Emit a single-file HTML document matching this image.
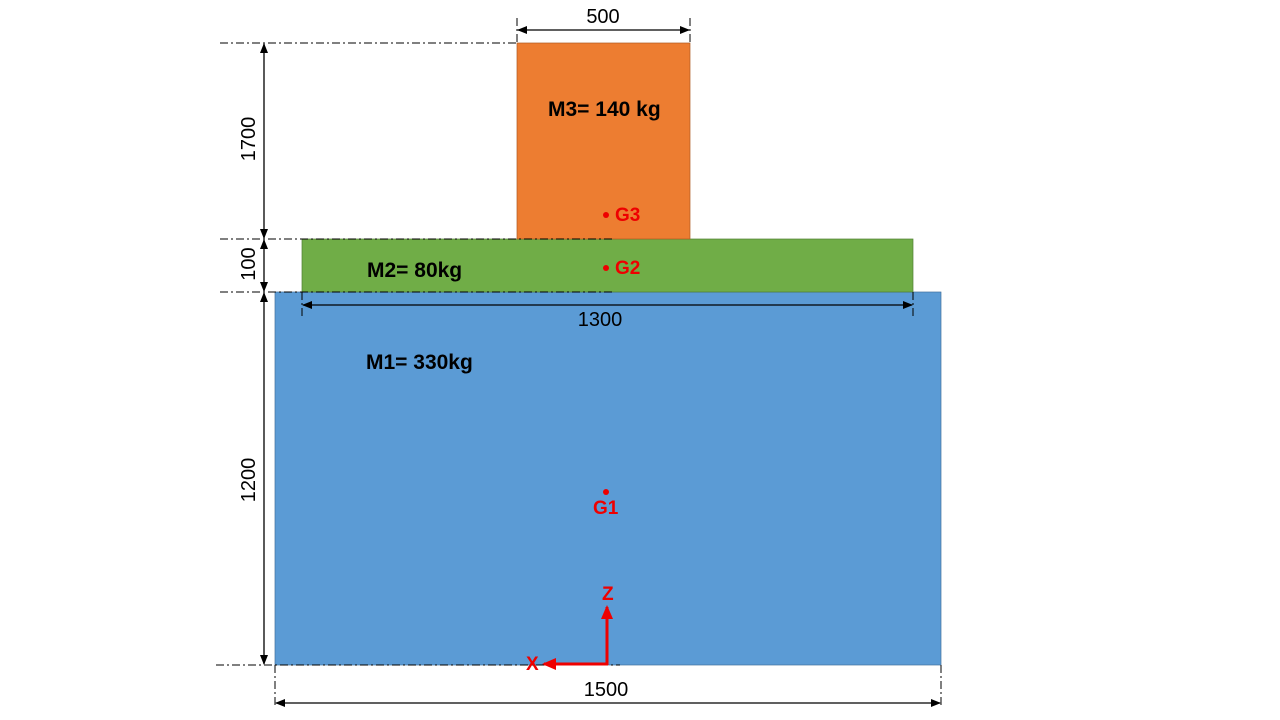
<!DOCTYPE html>
<html><head><meta charset="utf-8"><style>
html,body{margin:0;padding:0;background:#fff;width:1280px;height:720px;overflow:hidden}
svg{display:block;font-family:"Liberation Sans",sans-serif}
</style></head><body>
<svg width="1280" height="720" viewBox="0 0 1280 720">
<defs>
<marker id="ah" markerWidth="10" markerHeight="8" refX="9" refY="4" orient="auto-start-reverse" markerUnits="userSpaceOnUse"><path d="M0,0 L10,4 L0,8 Z" fill="#000"/></marker>
<marker id="rh" markerWidth="14" markerHeight="12" refX="12" refY="6" orient="auto" markerUnits="userSpaceOnUse"><path d="M0,0 L14,6 L0,12 Z" fill="#e00"/></marker>
</defs>
<rect x="275" y="292" width="666" height="373" fill="#5B9BD5" stroke="#41719C" stroke-width="0.7"/>
<rect x="302" y="239" width="611" height="53" fill="#70AD47" stroke="#507E32" stroke-width="0.7"/>
<rect x="517" y="43" width="173" height="196" fill="#ED7D31" stroke="#AE5A21" stroke-width="0.7"/>
<g stroke="#000" stroke-width="1" stroke-dasharray="8,3,2,3" fill="none">
<line x1="220" y1="43" x2="517" y2="43"/>
<line x1="220" y1="239" x2="613" y2="239"/>
<line x1="220" y1="292" x2="613" y2="292"/>
<line x1="216" y1="665" x2="620" y2="665"/>
<line x1="517" y1="18" x2="517" y2="43"/>
<line x1="690" y1="18" x2="690" y2="43"/>
<line x1="302" y1="292" x2="302" y2="316"/>
<line x1="913" y1="292" x2="913" y2="316"/>
<line x1="275" y1="665" x2="275" y2="706"/>
<line x1="941" y1="665" x2="941" y2="706"/>
</g>
<g stroke="#000" stroke-width="1.3">
<line x1="518" y1="30" x2="689" y2="30" marker-start="url(#ah)" marker-end="url(#ah)"/>
<line x1="264" y1="44" x2="264" y2="238" marker-start="url(#ah)" marker-end="url(#ah)"/>
<line x1="264" y1="240" x2="264" y2="291" marker-start="url(#ah)" marker-end="url(#ah)"/>
<line x1="264" y1="293" x2="264" y2="664" marker-start="url(#ah)" marker-end="url(#ah)"/>
<line x1="303" y1="305" x2="912" y2="305" marker-start="url(#ah)" marker-end="url(#ah)"/>
<line x1="276" y1="703" x2="940" y2="703" marker-start="url(#ah)" marker-end="url(#ah)"/>
</g>
<g font-size="20" fill="#000">
<text x="603" y="23" text-anchor="middle">500</text>
<text x="600" y="326" text-anchor="middle">1300</text>
<text x="606" y="696" text-anchor="middle">1500</text>
<text transform="translate(255,139) rotate(-90)" text-anchor="middle">1700</text>
<text transform="translate(255,264) rotate(-90)" text-anchor="middle">100</text>
<text transform="translate(255,480) rotate(-90)" text-anchor="middle">1200</text>
</g>
<g font-size="21" font-weight="bold" fill="#000">
<text x="548" y="116">M3= 140 kg</text>
<text x="367" y="277">M2= 80kg</text>
<text x="366" y="369">M1= 330kg</text>
</g>
<g fill="#e00" font-size="19" font-weight="bold">
<circle cx="606" cy="215" r="3"/>
<text x="615" y="221">G3</text>
<circle cx="606" cy="268" r="3"/>
<text x="615" y="274">G2</text>
<circle cx="606" cy="492" r="3"/>
<text x="593" y="514">G1</text>
<text x="602" y="600">Z</text>
<text x="526" y="670">X</text>
</g>
<line x1="607" y1="665" x2="607" y2="607" stroke="#e00" stroke-width="3" marker-end="url(#rh)"/>
<line x1="608" y1="664" x2="544" y2="664" stroke="#e00" stroke-width="3" marker-end="url(#rh)"/>
</svg>
</body></html>
